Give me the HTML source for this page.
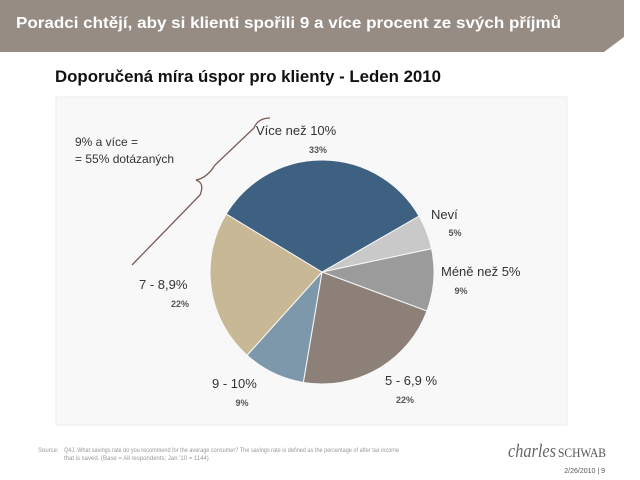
<!DOCTYPE html>
<html><head><meta charset="utf-8"><style>
body{margin:0;width:640px;height:480px;background:#fff;font-family:"Liberation Sans",sans-serif;position:relative;overflow:hidden}
.abs{position:absolute}
</style></head><body>
<svg class="abs" style="left:0;top:0" width="640" height="480">
<polygon points="0,0 624,0 624,37 604,52 0,52" fill="#968c84"/>
<text x="16" y="28" font-size="16" font-weight="bold" fill="#fff" textLength="545" lengthAdjust="spacingAndGlyphs">Poradci chtějí, aby si klienti spořili 9 a více procent ze svých příjmů</text>
<text x="55" y="82" font-size="16.5" font-weight="bold" fill="#111" textLength="386" lengthAdjust="spacingAndGlyphs">Doporučená míra úspor pro klienty - Leden 2010</text>
<rect x="56" y="97" width="511" height="328" fill="#f8f8f8" stroke="#ececec"/>
<g id="pie"></g>
<path d="M270,118 Q258,118 254,128 L215,165 Q207,178 196,180 Q205,183 200,195 L132,265" fill="none" stroke="#7a5a55" stroke-width="1.3"/>
<text x="75" y="146" font-size="12" fill="#333">9% a více =</text>
<text x="75" y="163" font-size="12" fill="#333">= 55% dotázaných</text>
<text x="38" y="452" font-size="6" fill="#999">Source:</text>
<text x="64" y="452" font-size="6" fill="#999" textLength="335" lengthAdjust="spacingAndGlyphs">Q4J. What savings rate do you recommend for the average consumer? The savings rate is defined as the percentage of after tax income</text>
<text x="64" y="460" font-size="6" fill="#999">that is saved. (Base = All respondents; Jan '10 = 1144)</text>
<text x="508" y="457" font-size="19" font-style="italic" font-family="Liberation Serif,serif" fill="#666" textLength="48" lengthAdjust="spacingAndGlyphs">charles</text>
<text x="558" y="457" font-size="13" font-family="Liberation Serif,serif" fill="#555" textLength="48" lengthAdjust="spacingAndGlyphs">SCHWAB</text>
<text x="605" y="473" font-size="7" fill="#555" text-anchor="end">2/26/2010  |  9</text>
</svg>
<script>
const categories=["Neví","Méně než 5%","5 - 6,9 %","9 - 10%","7 - 8,9%","Více než 10%"];
const values=[5,9,22,9,22,33];
const labels=["5%","9%","22%","9%","22%","33%"];
const colors=["#c9c9c9","#9b9b9b","#8c8079","#7d98ab","#c8b895","#3f6181"];
const labelPos=[[431,219,455,236],[441,276,461,294],[385,385,405,403],[212,388,242,406],[139,289,180,307],[256,135,318,153]];
const cx=322,cy=272,r=112,start=60;
const g=document.getElementById('pie');const ns="http://www.w3.org/2000/svg";
const total=values.reduce((a,b)=>a+b,0);let a=start;
function pt(d){const t=d*Math.PI/180;return [cx+r*Math.sin(t),cy-r*Math.cos(t)];}
values.forEach((v,i)=>{const s=a,e=a+v/total*360;a=e;const p1=pt(s),p2=pt(e);
const p=document.createElementNS(ns,'path');
p.setAttribute('d',`M${cx},${cy} L${p1[0]},${p1[1]} A${r},${r} 0 ${e-s>180?1:0} 1 ${p2[0]},${p2[1]} Z`);
p.setAttribute('fill',colors[i]);p.setAttribute('stroke','#f8f8f8');p.setAttribute('stroke-width','1');


g.appendChild(p);
const lp=labelPos[i];
const t1=document.createElementNS(ns,'text');t1.setAttribute('x',lp[0]);t1.setAttribute('y',lp[1]);t1.setAttribute('font-size','13');t1.setAttribute('fill','#333');t1.textContent=categories[i];


g.appendChild(t1);
const t2=document.createElementNS(ns,'text');t2.setAttribute('x',lp[2]);t2.setAttribute('y',lp[3]);t2.setAttribute('font-size','9');t2.setAttribute('font-weight','bold');t2.setAttribute('fill','#555');t2.setAttribute('text-anchor','middle');t2.textContent=labels[i];


g.appendChild(t2);});
</script>
</body></html>
